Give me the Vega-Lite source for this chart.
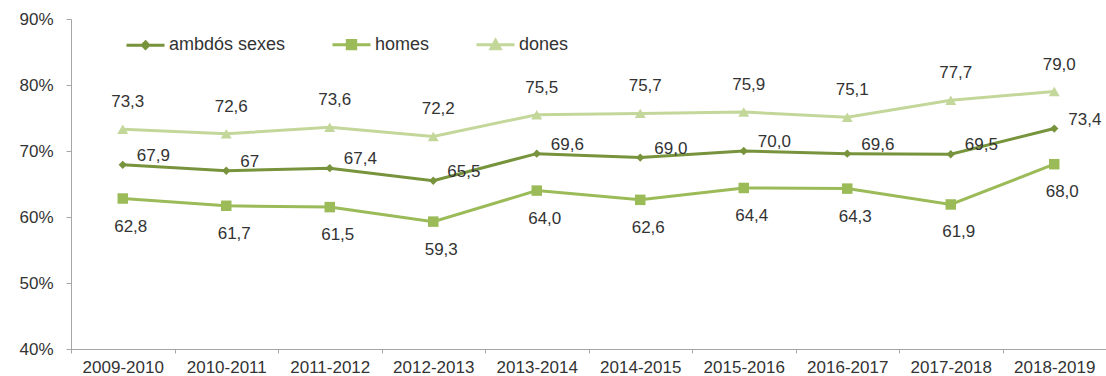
{
  "$schema": "https://vega.github.io/schema/vega-lite/v6.json",
  "width": 1035,
  "height": 330,
  "autosize": {"type": "none"},
  "padding": {"left": 71, "top": 19, "right": 0, "bottom": 27},
  "background": "white",
  "config": {"view": {"stroke": null}, "font": "Liberation Sans"},
  "data": {
    "values": [
      {"curs": "2009-2010", "serie": "ambdós sexes", "valor": 67.9, "etiqueta": "67,9"},
      {"curs": "2010-2011", "serie": "ambdós sexes", "valor": 67.0, "etiqueta": "67"},
      {"curs": "2011-2012", "serie": "ambdós sexes", "valor": 67.4, "etiqueta": "67,4"},
      {"curs": "2012-2013", "serie": "ambdós sexes", "valor": 65.5, "etiqueta": "65,5"},
      {"curs": "2013-2014", "serie": "ambdós sexes", "valor": 69.6, "etiqueta": "69,6"},
      {"curs": "2014-2015", "serie": "ambdós sexes", "valor": 69.0, "etiqueta": "69,0"},
      {"curs": "2015-2016", "serie": "ambdós sexes", "valor": 70.0, "etiqueta": "70,0"},
      {"curs": "2016-2017", "serie": "ambdós sexes", "valor": 69.6, "etiqueta": "69,6"},
      {"curs": "2017-2018", "serie": "ambdós sexes", "valor": 69.5, "etiqueta": "69,5"},
      {"curs": "2018-2019", "serie": "ambdós sexes", "valor": 73.4, "etiqueta": "73,4"},
      {"curs": "2009-2010", "serie": "homes", "valor": 62.8, "etiqueta": "62,8"},
      {"curs": "2010-2011", "serie": "homes", "valor": 61.7, "etiqueta": "61,7"},
      {"curs": "2011-2012", "serie": "homes", "valor": 61.5, "etiqueta": "61,5"},
      {"curs": "2012-2013", "serie": "homes", "valor": 59.3, "etiqueta": "59,3"},
      {"curs": "2013-2014", "serie": "homes", "valor": 64.0, "etiqueta": "64,0"},
      {"curs": "2014-2015", "serie": "homes", "valor": 62.6, "etiqueta": "62,6"},
      {"curs": "2015-2016", "serie": "homes", "valor": 64.4, "etiqueta": "64,4"},
      {"curs": "2016-2017", "serie": "homes", "valor": 64.3, "etiqueta": "64,3"},
      {"curs": "2017-2018", "serie": "homes", "valor": 61.9, "etiqueta": "61,9"},
      {"curs": "2018-2019", "serie": "homes", "valor": 68.0, "etiqueta": "68,0"},
      {"curs": "2009-2010", "serie": "dones", "valor": 73.3, "etiqueta": "73,3"},
      {"curs": "2010-2011", "serie": "dones", "valor": 72.6, "etiqueta": "72,6"},
      {"curs": "2011-2012", "serie": "dones", "valor": 73.6, "etiqueta": "73,6"},
      {"curs": "2012-2013", "serie": "dones", "valor": 72.2, "etiqueta": "72,2"},
      {"curs": "2013-2014", "serie": "dones", "valor": 75.5, "etiqueta": "75,5"},
      {"curs": "2014-2015", "serie": "dones", "valor": 75.7, "etiqueta": "75,7"},
      {"curs": "2015-2016", "serie": "dones", "valor": 75.9, "etiqueta": "75,9"},
      {"curs": "2016-2017", "serie": "dones", "valor": 75.1, "etiqueta": "75,1"},
      {"curs": "2017-2018", "serie": "dones", "valor": 77.7, "etiqueta": "77,7"},
      {"curs": "2018-2019", "serie": "dones", "valor": 79.0, "etiqueta": "79,0"}
    ]
  },
  "encoding": {
    "x": {
      "field": "curs", "type": "nominal", "sort": null, "bandPosition": 0.5,
      "scale": {"type": "band", "paddingInner": 0, "paddingOuter": 0},
      "axis": {
        "title": null, "labelAngle": 0, "tickBand": "extent", "grid": false,
        "domainColor": "#a6a6a6", "tickColor": "#a6a6a6", "tickSize": 4,
        "labelFontSize": 17, "labelColor": "#333333", "labelPadding": 6,
        "labelFont": "Liberation Sans"
      }
    },
    "y": {
      "field": "valor", "type": "quantitative",
      "scale": {"domain": [40, 90], "nice": false, "zero": false},
      "axis": {
        "title": null, "grid": false, "values": [40, 50, 60, 70, 80, 90],
        "labelExpr": "datum.value + '%'",
        "domainColor": "#a6a6a6", "tickColor": "#a6a6a6", "tickSize": 5,
        "labelFontSize": 17, "labelColor": "#333333", "labelPadding": 13,
        "labelFont": "Liberation Sans"
      }
    }
  },
  "layer": [
    {
      "mark": {"type": "line", "strokeWidth": 3},
      "encoding": {
        "color": {
          "field": "serie", "type": "nominal",
          "scale": {"domain": ["ambdós sexes", "homes", "dones"], "range": ["#77933C", "#9BBB59", "#C4D79B"]},
          "legend": {
            "orient": "none", "legendX": 54, "legendY": 5, "direction": "horizontal",
            "title": null, "labelFontSize": 18, "labelColor": "#333333", "labelFont": "Liberation Sans",
            "symbolSize": 1444, "columnPadding": 40, "labelOffset": 3, "padding": 0,
            "symbolStrokeWidth": 3,
            "encode": {
              "symbols": {
                "update": {
                  "shape": {"signal": "datum.value == 'ambdós sexes' ? 'M-1,0L1,0M0,-0.17L0.17,0L0,0.17L-0.17,0Z' : datum.value == 'homes' ? 'M-1,0L1,0M-0.22,-0.22L0.22,-0.22L0.22,0.22L-0.22,0.22Z' : 'M-1,0L1,0M0,-0.24L0.24,0.2L-0.24,0.2Z'"},
                  "size": {"value": 1444},
                  "fill": {"signal": "scale('color', datum.value)"},
                  "strokeWidth": {"value": 3},
                  "fillOpacity": {"value": 1},
                  "opacity": {"value": 1}
                }
              }
            }
          }
        }
      }
    },
    {
      "mark": {"type": "point", "filled": true, "opacity": 1},
      "encoding": {
        "fill": {
          "field": "serie", "type": "nominal", "legend": null,
          "scale": {"range": ["#77933C", "#C4D79B", "#9BBB59"]}
        },
        "shape": {
          "field": "serie", "type": "nominal", "legend": null,
          "scale": {"range": ["diamond", "triangle-up", "square"]}
        },
        "size": {
          "field": "serie", "type": "ordinal", "legend": null,
          "scale": {"type": "ordinal", "range": [70, 120, 110]}
        }
      }
    },
    {
      "transform": [{"filter": "datum.serie == 'ambdós sexes'"}],
      "mark": {"type": "text", "align": "left", "baseline": "middle", "dx": 14, "dy": -9, "fontSize": 17},
      "encoding": {"text": {"field": "etiqueta"}, "color": {"value": "#333333"}}
    },
    {
      "transform": [{"filter": "datum.serie == 'homes'"}],
      "mark": {"type": "text", "align": "center", "baseline": "middle", "dx": 8, "dy": 28, "fontSize": 17},
      "encoding": {"text": {"field": "etiqueta"}, "color": {"value": "#333333"}}
    },
    {
      "transform": [{"filter": "datum.serie == 'dones'"}],
      "mark": {"type": "text", "align": "center", "baseline": "middle", "dx": 5, "dy": -27, "fontSize": 17},
      "encoding": {"text": {"field": "etiqueta"}, "color": {"value": "#333333"}}
    }
  ]
}
